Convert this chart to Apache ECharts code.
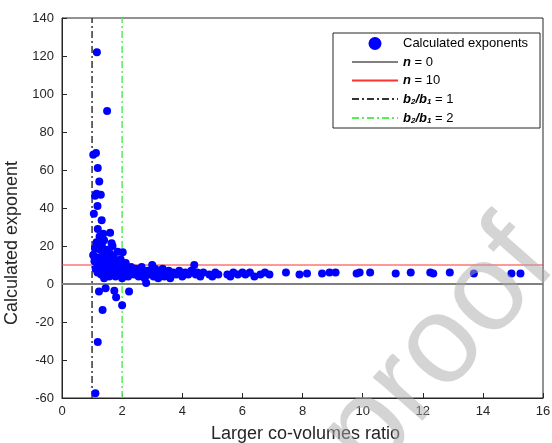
<!DOCTYPE html>
<html><head><meta charset="utf-8">
<script src="https://cdn.jsdelivr.net/npm/echarts@6/dist/echarts.min.js"></script>
<style>html,body{margin:0;padding:0;background:#fff}#c{width:552px;height:443px}</style>
</head><body><div id="c"></div>
<script>
// Calculated exponents: [larger co-volumes ratio, calculated exponent]
const exponents = [
[1.16,122],[1.5,91],[1.04,68],[1.13,69],[1.19,61],[1.24,54],[1.15,47.5],[1.29,47],[1.1,46.5],[1.18,41],
[1.06,37],[1.32,33.5],[1.19,29],[1.37,26.5],[1.6,27],[1.24,21.7],[1.65,21.4],[1.1,18.8],[1.04,15.3],[2.02,16.7],
[1.23,-4],[1.45,-2.3],[1.74,-3.5],[1.8,-7],[2.23,-4],[1.35,-13.7],[2.0,-11.2],[1.19,-30.5],[1.11,-57.5],
[1.05,15],[1.08,12],[1.1,19],[1.12,8],[1.15,22],[1.18,6],[1.2,10],[1.22,14],[1.25,25],[1.27,18],
[1.3,5],[1.3,12],[1.33,20],[1.35,8],[1.38,16],[1.4,3],[1.4,23],[1.42,10],[1.45,14],[1.47,6],
[1.5,18],[1.52,9],[1.55,12],[1.57,4],[1.6,16],[1.62,8],[1.65,11],[1.68,20],[1.7,6],[1.72,14],
[1.75,9],[1.78,4],[1.8,12],[1.82,7],[1.85,17],[1.88,5],[1.9,10],[1.92,8],[1.95,13],[1.98,6],
[2.0,3],[2.02,9],[2.05,7],[2.1,5],[2.12,11],[2.15,8],[2.2,4],[2.25,7],[2.3,9],[2.35,6],
[2.4,5],[2.45,8],[2.5,6],[2.55,4],[2.6,7],[2.65,9],[2.7,5],[2.75,3],[2.8,0.5],[2.85,7],
[2.9,5],[3.0,10],[3.0,6],[3.05,4],[3.1,8],[3.15,6],[3.2,3],[3.25,7],[3.3,5],[3.35,8],
[3.4,4],[3.45,6],[3.5,5],[3.55,7],[3.6,3],[3.7,6],[3.8,5],[3.9,7],[4.0,4],[4.1,6],
[4.2,5],[4.3,7],[4.4,10],[4.45,5],[4.5,6],[4.6,4],[4.7,6],[4.9,5],[5.0,4],[5.1,6],
[5.2,5],[5.5,5],[5.6,4],[5.7,6],[5.85,5],[6.0,6],[6.1,5],[6.25,6],[6.4,4],[6.6,5],
[6.75,6],[6.9,5],[7.45,6],[7.9,5],[8.15,5.5],[8.65,5.5],[8.9,6],[9.1,6],[9.8,5.5],[9.9,6],
[10.25,6],[11.1,5.5],[11.6,6],[12.25,6],[12.35,5.5],[12.9,6],[13.7,5.5],[14.95,5.5],[15.25,5.5]
];
const lineN0 = [[0,0],[16,0]];
const lineN10 = [[0,10],[16,10]];
const lineB1 = [[1,-60],[1,140]];
const lineB2 = [[2,-60],[2,140]];
const xTicks = [0,2,4,6,8,10,12,14,16];
const yTicks = [-60,-40,-20,0,20,40,60,80,100,120,140];
const watermark = 'proof';

const chart = echarts.init(document.getElementById('c'), null, {renderer:'canvas'});
const ff = 'Liberation Sans, Arial, sans-serif';
const rich = {
  bi:{fontWeight:'bold',fontStyle:'italic',fontSize:13,fontFamily:ff,color:'#000'},
  sub:{fontWeight:'bold',fontStyle:'italic',fontSize:8,fontFamily:ff,color:'#000',verticalAlign:'bottom',padding:[6,0,0,0]},
  n:{fontSize:13,fontFamily:ff,color:'#000'}
};
const legendText = {
  'Calculated exponents':'{n|Calculated exponents}',
  'n0':'{bi|n}{n| = 0}',
  'n10':'{bi|n}{n| = 10}',
  'b1':'{bi|b}{sub|2}{bi|/b}{sub|1}{n| = 1}',
  'b2':'{bi|b}{sub|2}{bi|/b}{sub|1}{n| = 2}'
};
const hideSym = {opacity:0};
chart.setOption({
  animation:false,
  backgroundColor:'#fff',
  grid:{left:62,right:9,top:18,bottom:45,show:true,borderColor:'#262626',borderWidth:1,
    backgroundColor:'transparent',containLabel:false,outerBoundsMode:'none'},
  xAxis:{type:'value',min:0,max:16,interval:2,
    name:'Larger co-volumes ratio',nameLocation:'middle',nameGap:27,
    nameTextStyle:{fontFamily:ff,fontSize:18,color:'#262626',padding:[0,0,0,6]},
    axisLine:{onZero:false,lineStyle:{color:'#262626'}},
    axisTick:{inside:true,length:5,lineStyle:{color:'#262626'}},
    axisLabel:{fontFamily:ff,fontSize:13,color:'#262626',margin:7,
      formatter:v=>xTicks.includes(v)?String(v):''},
    splitLine:{show:false}},
  yAxis:{type:'value',min:-60,max:140,interval:20,
    name:'Calculated exponent',nameLocation:'middle',nameGap:21,
    nameTextStyle:{fontFamily:ff,fontSize:18,color:'#262626',padding:[0,70,0,0]},
    axisLine:{onZero:false,lineStyle:{color:'#262626'}},
    axisTick:{inside:true,length:5,lineStyle:{color:'#262626'}},
    axisLabel:{fontFamily:ff,fontSize:13,color:'#262626',margin:8,
      formatter:v=>yTicks.includes(v)?String(v):''},
    splitLine:{show:false}},
  legend:{
    orient:'vertical',left:333,top:33,
    backgroundColor:'#fff',borderColor:'#262626',borderWidth:1,
    padding:[4,12,3,18],itemGap:5.5,itemWidth:46,itemHeight:13,
    textStyle:{rich:rich,fontFamily:ff,fontSize:13,color:'#000'},
    formatter:name=>legendText[name],
    data:[
      {name:'Calculated exponents',icon:'circle',itemStyle:{color:'#0000ff'}},
      {name:'n0',itemStyle:hideSym},{name:'n10',itemStyle:hideSym},
      {name:'b1',itemStyle:hideSym},{name:'b2',itemStyle:hideSym}
    ]
  },
  graphic:[{type:'text',x:392,y:498,rotation:0.85,z:100,silent:true,
    style:{text:watermark,fontFamily:ff,fontSize:125,fill:'rgba(170,170,170,0.5)',textVerticalAlign:'bottom'}}],
  series:[
    {name:'n0',type:'line',data:lineN0,symbol:'none',z:1,
      lineStyle:{color:'#808080',width:2},itemStyle:{color:'#808080'}},
    {name:'n10',type:'line',data:lineN10,symbol:'none',z:1,
      lineStyle:{color:'#ff3030',width:1},itemStyle:{color:'#ff3030'}},
    {name:'b1',type:'line',data:lineB1,symbol:'none',z:1,
      lineStyle:{color:'#333',width:1.5,type:[7,3,2,3]},itemStyle:{color:'#333'}},
    {name:'b2',type:'line',data:lineB2,symbol:'none',z:1,
      lineStyle:{color:'#55ee55',width:1.5,type:[7,3,2,3]},itemStyle:{color:'#55ee55'}},
    {name:'Calculated exponents',type:'scatter',data:exponents,symbol:'circle',symbolSize:8,z:3,
      itemStyle:{color:'#0000ff',opacity:1}}
  ]
});
</script></body></html>
